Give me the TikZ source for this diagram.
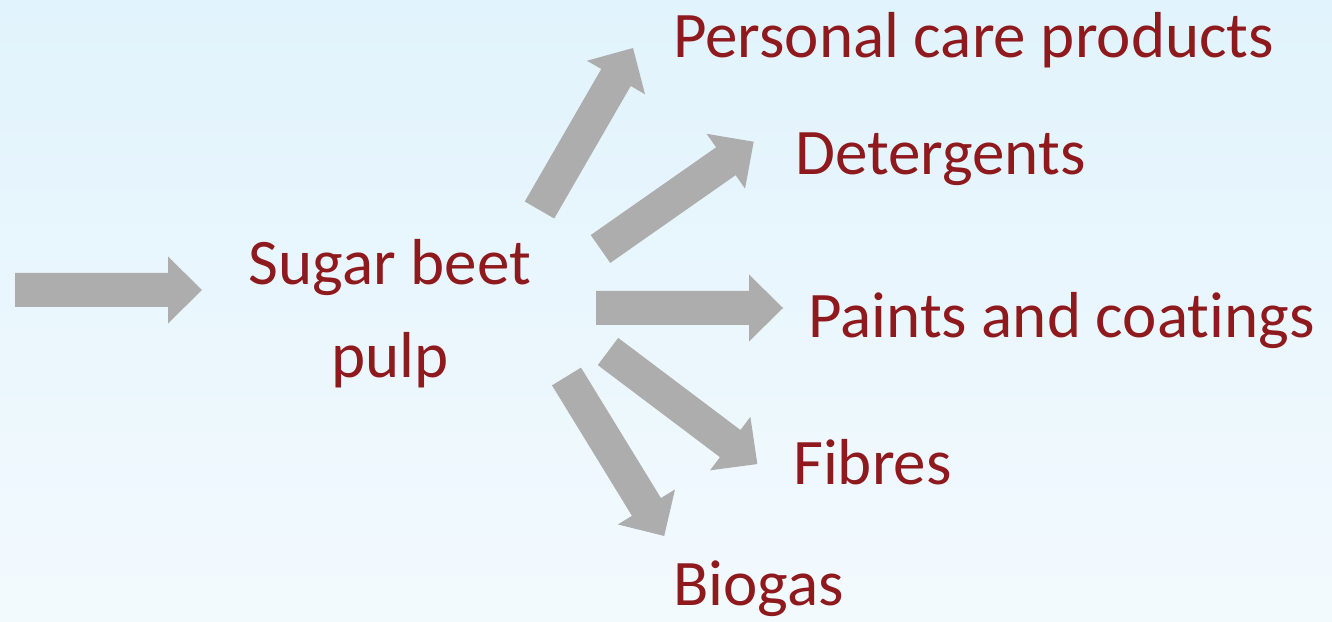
\documentclass[tikz,border=0pt]{standalone}
\usepackage{fontspec}
\setmainfont{Carlito}[Ligatures={NoCommon}]
\definecolor{bgtop}{HTML}{E1F3FC}
\definecolor{bgbot}{HTML}{F3FAFE}
\definecolor{arrowgray}{HTML}{ADADAD}
\definecolor{labelred}{HTML}{8E1A1E}
\tikzset{
  lbl/.style={text=labelred, font=\fontsize{65}{93}\selectfont, inner sep=0pt, anchor=base west},
  blockarrow/.pic={\fill[arrowgray] (0,-17)--(153,-17)--(153,-33.5)--(187,0)--(153,33.5)--(153,17)--(0,17)--cycle;}
}
\begin{document}
\begin{tikzpicture}[x=1pt,y=1pt]
\shade[top color=bgtop, bottom color=bgbot] (0,0) rectangle (1332,621);
\useasboundingbox (0,0) rectangle (1332,621);
% arrows
\pic at (15,331) {blockarrow};
\pic at (596,313) {blockarrow};
\pic[rotate=60] at (539.5,411) {blockarrow};
\pic[rotate=35] at (600.5,372) {blockarrow};
\pic[rotate=-37] at (608,269.5) {blockarrow};
\pic[rotate=-58.5] at (566.5,244.5) {blockarrow};
% labels
\node[lbl, anchor=base, align=center] (sbp) at (390,243) {Sugar beet\\pulp};
\node[lbl] (pcp) at (673,563) {Personal care products};
\node[lbl] (det) at (795,446) {Detergents};
\node[lbl] (pac) at (808,283) {Paints and coatings};
\node[lbl] (fib) at (793,136) {Fibres};
\node[lbl] (bio) at (673,16) {Biogas};
\end{tikzpicture}
\end{document}
